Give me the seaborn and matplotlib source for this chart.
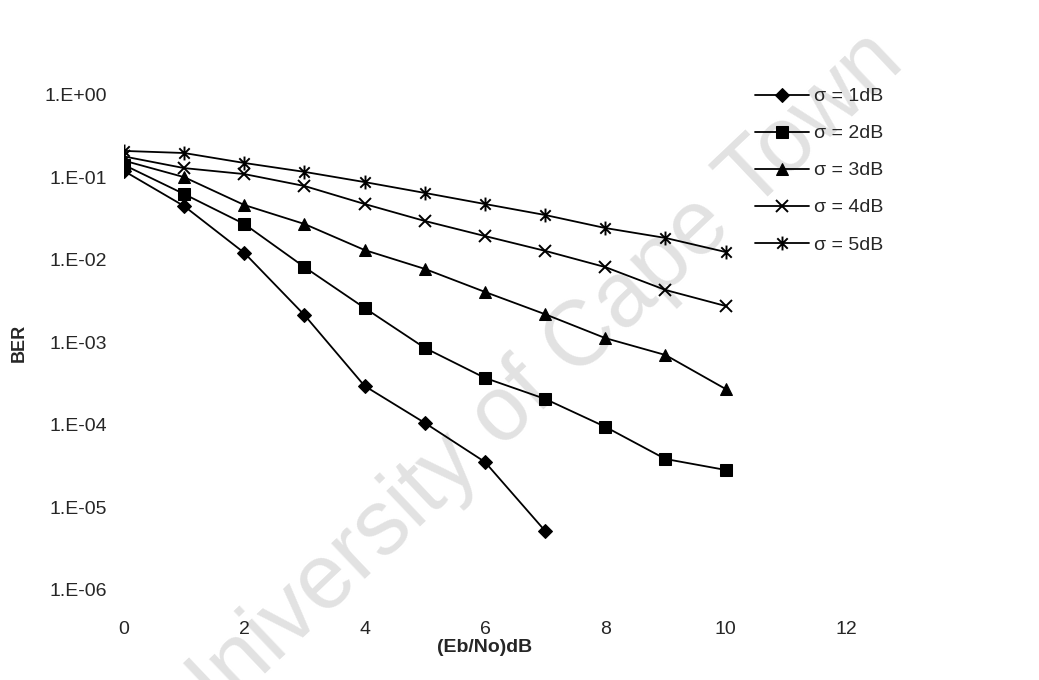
import numpy as np
import pandas as pd
import matplotlib
matplotlib.use("Agg")
import matplotlib.pyplot as plt
from matplotlib.path import Path
from matplotlib.ticker import FixedLocator, FixedFormatter, NullLocator
import seaborn as sns

# ---- data -------------------------------------------------------------
ebno_db = [0, 1, 2, 3, 4, 5, 6, 7, 8, 9, 10]

ber_sigma1 = [0.120, 0.045, 0.0122, 0.00215, 2.97e-4, 1.06e-4, 3.56e-5, 5.2e-6]
ber_sigma2 = [0.142, 0.063, 0.0273, 0.0082, 0.00262, 8.6e-4, 3.72e-4, 2.07e-4,
              9.5e-5, 3.87e-5, 2.85e-5]
ber_sigma3 = [0.160, 0.101, 0.0464, 0.0273, 0.0132, 0.0078, 0.0041, 0.0022,
              0.00113, 7.05e-4, 2.73e-4]
ber_sigma4 = [0.180, 0.130, 0.110, 0.0789, 0.0477, 0.0297, 0.0195, 0.0129,
              0.0082, 0.00433, 0.00277]
ber_sigma5 = [0.210, 0.198, 0.150, 0.117, 0.088, 0.065, 0.0477, 0.0351,
              0.0244, 0.0185, 0.0125]

series_labels = ["σ = 1dB", "σ = 2dB", "σ = 3dB", "σ = 4dB", "σ = 5dB"]
series_values = [ber_sigma1, ber_sigma2, ber_sigma3, ber_sigma4, ber_sigma5]

xtick_values = [0, 2, 4, 6, 8, 10, 12]
ytick_values = [1e-6, 1e-5, 1e-4, 1e-3, 1e-2, 1e-1, 1e0]
ytick_labels = ["1.E-06", "1.E-05", "1.E-04", "1.E-03", "1.E-02", "1.E-01", "1.E+00"]

x_label = "(Eb/No)dB"
y_label = "BER"
watermark = "University of Cape Town"

# ---- style ------------------------------------------------------------
sns.set_style("white")
plt.rcParams["font.family"] = ["Liberation Sans", "DejaVu Sans"]

# asterisk marker: vertical bar plus a cross
star = Path([(0, -1), (0, 1), (-0.75, -0.75), (0.75, 0.75), (-0.75, 0.75), (0.75, -0.75)],
            [Path.MOVETO, Path.LINETO] * 3)
marker_specs = [
    dict(marker="D", markersize=7.5),
    dict(marker="s", markersize=8),
    dict(marker="^", markersize=9),
    dict(marker="x", markersize=8, markeredgewidth=1.4),
    dict(marker=star, markersize=10, markeredgewidth=1.4),
]

rows = []
for label, vals in zip(series_labels, series_values):
    for xv, yv in zip(ebno_db, vals):
        rows.append({"ebno": xv, "ber": yv, "sigma": label})
df = pd.DataFrame(rows)

fig = plt.figure(figsize=(10.39, 6.80), dpi=100)
fig.patch.set_facecolor("white")
ax = fig.add_axes([0.1193, 0.1324, 0.6949, 0.7279])
ax.set_facecolor("none")

for label, spec in zip(series_labels, marker_specs):
    sub = df[df["sigma"] == label]
    sns.lineplot(data=sub, x="ebno", y="ber", ax=ax, color="black",
                 linewidth=1.3, label=label, markeredgecolor="black",
                 markerfacecolor="black", **spec)

ax.set_yscale("log")
ax.set_xlim(0, 12)
ax.set_ylim(1e-6, 1e0)

ax.xaxis.set_major_locator(FixedLocator(xtick_values))
ax.yaxis.set_major_locator(FixedLocator(ytick_values))
ax.yaxis.set_major_formatter(FixedFormatter(ytick_labels))
ax.yaxis.set_minor_locator(NullLocator())
ax.tick_params(axis="both", which="both", length=1, width=1, color="#a0a0a0",
               labelsize=14)
ax.tick_params(axis="y", pad=11)
ax.tick_params(axis="x", pad=21)

for s in ax.spines.values():
    s.set_visible(False)
ax.grid(False)

ax.set_xlabel(x_label, fontsize=14, fontweight="bold")
ax.set_ylabel(y_label, fontsize=13, fontweight="bold")
ax.xaxis.set_label_coords(0.5, -0.100)
ax.yaxis.set_label_coords(-0.133, 0.5)

leg = ax.legend(loc="upper left", bbox_to_anchor=(0.7267, 0.871),
                bbox_transform=fig.transFigure, frameon=False, fontsize=14,
                handlelength=2.75, handletextpad=0.3, labelspacing=1.0,
                borderpad=0, borderaxespad=0, numpoints=1)

fig.text(0.512, 0.43, watermark, rotation=43.5, fontsize=66, color="#e2e2e2",
         ha="center", va="center", rotation_mode="anchor", zorder=-1)

fig.savefig("out.png", dpi=100)
